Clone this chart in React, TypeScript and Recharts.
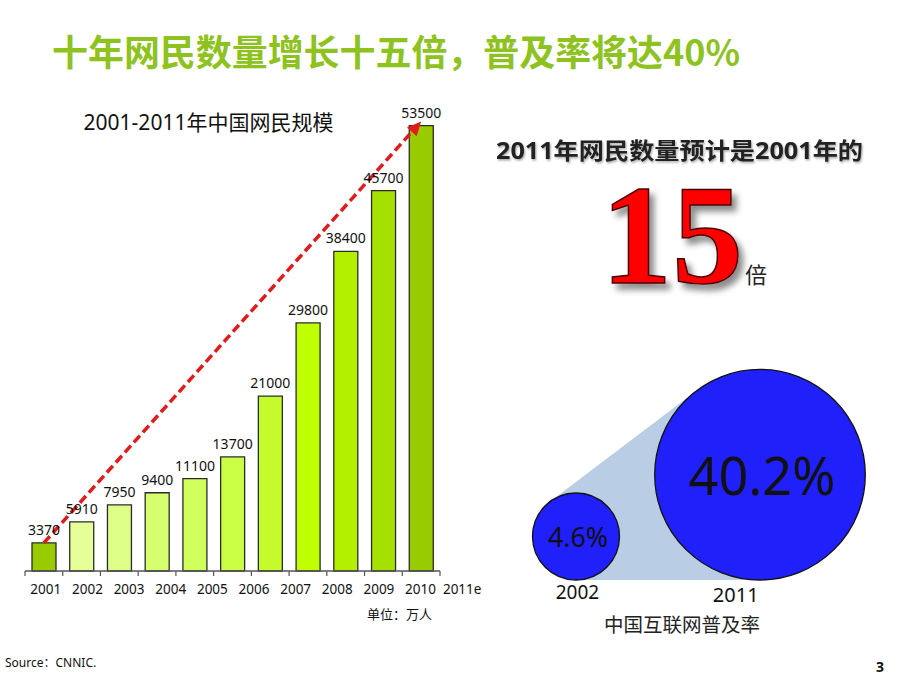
import React from 'react';
import {
  BarChart, Bar, XAxis, YAxis, Cell, LabelList, ReferenceLine,
  ScatterChart, Scatter, ZAxis,
} from 'recharts';

// 中国网民规模（万人）
const years = ['2001', '2002', '2003', '2004', '2005', '2006', '2007', '2008', '2009', '2010', '2011e'];
const netizens = [3370, 5910, 7950, 9400, 11100, 13700, 21000, 29800, 38400, 45700, 53500];
const yTicks = [0, 60000];

// 互联网普及率（%）
const rateYears = ['2002', '2011'];
const internetRates = [4.6, 40.2];

const barColors = ['#99cc00', '#e6ff99', '#ddff88', '#d6ff70', '#d0ff5c', '#cbff45', '#c5fb2c', '#bfff00', '#b3f000', '#a6e000', '#99cc00'];

const FONT = "'Noto Sans', 'Noto Sans CJK SC', sans-serif";
const CJK = "'Noto Sans CJK SC', 'Noto Sans', sans-serif";

const CHART_W = 500;
const MARGIN_L = 25;
const MARGIN_R = 17;
const PAD_R = 43;
const BAND = (CHART_W - MARGIN_L - MARGIN_R - PAD_R) / years.length;

const barData = years.map((year, i) => ({ year, value: netizens[i] }));
const bubbleData = rateYears.map((year, i) => ({ slot: i, base: 0, rate: internetRates[i], year }));

// axis line + tick marks on category boundaries (excel style)
const BoundaryTick = (p: any) => {
  const { x, y } = p;
  const idx = p.index ?? p.payload?.index ?? 0;
  const half = BAND / 2;
  return (
    <g>
      <line x1={x - half} x2={x + half} y1={y} y2={y} stroke="#555" strokeWidth={1.3} />
      <line x1={x - half} x2={x - half} y1={y} y2={y + 5} stroke="#555" strokeWidth={1.2} />
      {idx === years.length - 1 && (
        <line x1={x + half} x2={x + half} y1={y} y2={y + 5} stroke="#555" strokeWidth={1.2} />
      )}
    </g>
  );
};

const TrendArrow = (p: any) => {
  const { x1, y1, x2, y2 } = p;
  if ([x1, y1, x2, y2].some((v) => typeof v !== 'number' || isNaN(v))) return <g />;
  const ang = Math.atan2(y2 - y1, x2 - x1);
  const len = 14;
  const w = 6.5;
  const bx = x2 - len * Math.cos(ang);
  const by = y2 - len * Math.sin(ang);
  const nx = -Math.sin(ang);
  const ny = Math.cos(ang);
  return (
    <g>
      <line x1={x1} y1={y1} x2={bx} y2={by} stroke="#e01b1b" strokeWidth={3.5} strokeDasharray="9 4.5" />
      <polygon
        points={`${x2},${y2} ${bx + nx * w},${by + ny * w} ${bx - nx * w},${by - ny * w}`}
        fill="#e01b1b"
      />
    </g>
  );
};

const radiusOf = (p: any) => (p.size ? Math.sqrt(p.size / Math.PI) : (p.width || 0) / 2);

let hullStart: { x: number; y: number; r: number } | null = null;

// light band joining the two circles (outer tangents)
const HullShape = (p: any) => {
  const r = radiusOf(p);
  const c = { x: p.cx, y: p.cy - r, r };
  if (p.payload?.slot === 0) {
    hullStart = c;
    return <g />;
  }
  const a = hullStart;
  if (!a) return <g />;
  const th = Math.atan2(c.y - a.y, c.x - a.x);
  const d = Math.hypot(c.x - a.x, c.y - a.y);
  const ph = Math.acos((a.r - c.r) / d);
  const pt = (o: { x: number; y: number; r: number }, t: number) => `${o.x + o.r * Math.cos(t)},${o.y + o.r * Math.sin(t)}`;
  const pts = [pt(a, th + ph), pt(c, th + ph), pt(c, th - ph), pt(a, th - ph)].join(' ');
  return <polygon points={pts} fill="#b9cde4" />;
};

const BubbleShape = (p: any) => {
  const r = radiusOf(p);
  const cy = p.cy - r;
  const fs = 9 + r * 0.41;
  return (
    <g>
      <circle cx={p.cx} cy={cy} r={r} fill="#2020fb" stroke="#111" strokeWidth={1.3} />
      <text x={p.cx + 2} y={cy} textAnchor="middle" dominantBaseline="central" fontSize={fs} fontFamily={FONT} fill="#111">
        {`${p.payload.rate}%`}
      </text>
    </g>
  );
};

export default function App() {
  return (
    <div style={{ position: 'absolute', left: 0, top: 0, width: 920, height: 690, background: '#fff', overflow: 'hidden' }}>
      <svg width={920} height={690} style={{ position: 'absolute', left: 0, top: 0 }}>
        <defs>
          <filter id="shadowBig" x="-20%" y="-20%" width="150%" height="150%">
            <feDropShadow dx="5" dy="6" stdDeviation="3" floodColor="#000" floodOpacity="0.45" />
          </filter>
          <filter id="shadowSmall" x="-5%" y="-20%" width="110%" height="150%">
            <feDropShadow dx="1" dy="1.5" stdDeviation="1" floodColor="#000" floodOpacity="0.35" />
          </filter>
        </defs>
        <text x={52} y={66} fontSize={36} fontWeight={700} fontFamily={CJK} fill="#8dc21f" textLength={688} lengthAdjust="spacingAndGlyphs">
          十年网民数量增长十五倍，普及率将达40%
        </text>
        <text x={208.5} y={130} textAnchor="middle" fontSize={21} fontFamily={FONT} fill="#111">
          2001-2011年中国网民规模
        </text>
        <text x={367} y={618.5} fontSize={13} fontFamily={CJK} fill="#111">单位：万人</text>

        <text x={496} y={159} fontSize={23} fontWeight={700} fontFamily={FONT} fill="#222" textLength={367} lengthAdjust="spacingAndGlyphs" filter="url(#shadowSmall)">
          2011年网民数量预计是2001年的
        </text>
        <text x={672} y={283} textAnchor="middle" fontSize={142} fontWeight={700} fontFamily="'Liberation Serif', serif" fill="#ff0000" stroke="#4a0000" strokeWidth={1.5} filter="url(#shadowBig)">
          15
        </text>
        <text x={745} y={283} fontSize={22} fontFamily={CJK} fill="#222">倍</text>

        <text x={577.5} y={599} textAnchor="middle" fontSize={19} fontFamily={FONT} fill="#111">{rateYears[0]}</text>
        <text x={735.7} y={602} textAnchor="middle" fontSize={20} fontFamily={FONT} fill="#111">{rateYears[1]}</text>
        <text x={682} y={632} textAnchor="middle" fontSize={19.5} fontFamily={CJK} fill="#222">中国互联网普及率</text>

        <text x={5} y={667} fontSize={12} fontFamily={FONT} fill="#111">Source：CNNIC.</text>
        <text x={876} y={672} fontSize={14} fontWeight={700} fontFamily={FONT} fill="#111">3</text>
      </svg>

      <div style={{ position: 'absolute', left: 0, top: 0 }}>
        <BarChart width={CHART_W} height={640} data={barData} margin={{ top: 71.5, right: MARGIN_R, left: MARGIN_L, bottom: 31 }}>
          <XAxis
            xAxisId="bars"
            dataKey="year"
            height={8}
            axisLine={false}
            tickLine={false}
            tickSize={0}
            tickMargin={0}
            interval={0}
            padding={{ left: 0, right: PAD_R }}
            tick={(p: any) => <BoundaryTick {...p} />}
          />
          <XAxis
            xAxisId="labels"
            dataKey="year"
            height={30}
            axisLine={false}
            tickLine={false}
            tickSize={0}
            tickMargin={5}
            interval={0}
            tick={{ fontSize: 13.5, fill: '#111', fontFamily: FONT }}
          />
          <YAxis hide type="number" domain={yTicks} />
          <Bar xAxisId="bars" dataKey="value" barSize={24} stroke="#2b2b2b" strokeWidth={1.3} isAnimationActive={false}>
            {barData.map((d, i) => (
              <Cell key={d.year} fill={barColors[i % barColors.length]} />
            ))}
            <LabelList dataKey="value" position="top" offset={8} fill="#111" fontSize={14} fontFamily={FONT} />
          </Bar>
          <ReferenceLine
            xAxisId="bars"
            segment={[{ x: years[0], y: netizens[0] }, { x: years[years.length - 1], y: 54000 }]}
            ifOverflow="visible"
            shape={(p: any) => <TrendArrow {...p} />}
          />
        </BarChart>
      </div>

      <div style={{ position: 'absolute', left: 500, top: 340 }}>
        <ScatterChart width={420} height={300} margin={{ top: 0, right: 160, bottom: 60, left: 76 }}>
          <XAxis type="number" dataKey="slot" domain={[0, 1]} hide />
          <YAxis type="number" dataKey="base" domain={[0, 1]} hide />
          <ZAxis type="number" dataKey="rate" domain={[4.6, 40.2]} range={[5945, 34834]} />
          <Scatter data={bubbleData} shape={(p: any) => <HullShape {...p} />} isAnimationActive={false} />
          <Scatter data={bubbleData} shape={(p: any) => <BubbleShape {...p} />} isAnimationActive={false} />
        </ScatterChart>
      </div>
    </div>
  );
}
